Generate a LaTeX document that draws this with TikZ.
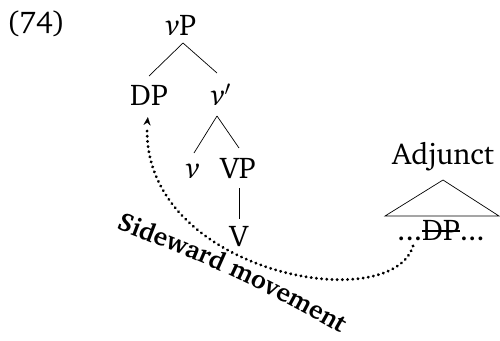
\documentclass[tikz,border=0pt]{standalone}
\usepackage[T1]{fontenc}
\usepackage{charter}
\usetikzlibrary{calc,arrows.meta,decorations.text,decorations.markings}
\newcommand\strk[1]{\setbox0\hbox{#1}\rlap{\rule[0.27em]{\wd0}{0.05em}}\box0}
\begin{document}
\begin{tikzpicture}[x=1pt,y=-1pt,
  lbl/.style={font=\fontsize{30}{34}\selectfont, inner sep=0pt, anchor=base},
  br/.style={line width=0.7pt},
  mv/.style={postaction={decorate}, decoration={markings,
     mark=between positions 0 and 0.96 step 5.2pt with {\fill (0,0) circle (1.6pt);},
     mark=at position 0.995 with {\arrow[line width=0.1pt]{Stealth[length=8pt,width=7pt]}}}}]
\useasboundingbox (0,0) rectangle (500,340);
\node[lbl] (ex) at (36,32) {(74)};
\node[lbl] (vP) at (181,35) {\textit{v}P};
\node[lbl] (DP) at (149,105) {DP};
\node[lbl] (vbar) at (221,105) {\textit{v}$'$};
\node[lbl] (nu) at (193,178) {\textit{v}};
\node[lbl] (VP) at (238,178) {VP};
\node[lbl] (V) at (239,246) {V};
\node[lbl] (adj) at (443,164) {Adjunct};
\node[lbl] (dots) at (441,240) {...\strk{DP}...};
% branches
\draw[br] ($(vP.base)+(2,8)$) -- ($(DP.base)+(0,-29)$);
\draw[br] ($(vP.base)+(2,8)$) -- ($(vbar.base)+(-4,-32)$);
\draw[br] ($(vbar.base)+(-4,11)$) -- ($(nu.base)+(1,-25)$);
\draw[br] ($(vbar.base)+(-4,11)$) -- ($(VP.base)+(1,-30)$);
\draw[br] ($(VP.base)+(1,10)$) -- ($(V.base)+(0,-27)$);
\draw[br] ($(adj.base)+(0,16)$) -- ($(dots.base)+(-56,-24)$) -- ($(dots.base)+(58,-24)$) -- cycle;
% movement arrow
\path[mv] ($(dots.base)+(-28,6)$) .. controls (390,320) and (130,270) .. ($(DP.base)+(-1,11)$);
% label along path
\path[decorate, decoration={text along path, text align=left,
   text={|\fontsize{26}{30}\selectfont\bfseries|Sideward movement}}]
   (116,229) to[bend left=5] (365,348);
\end{tikzpicture}
\end{document}
